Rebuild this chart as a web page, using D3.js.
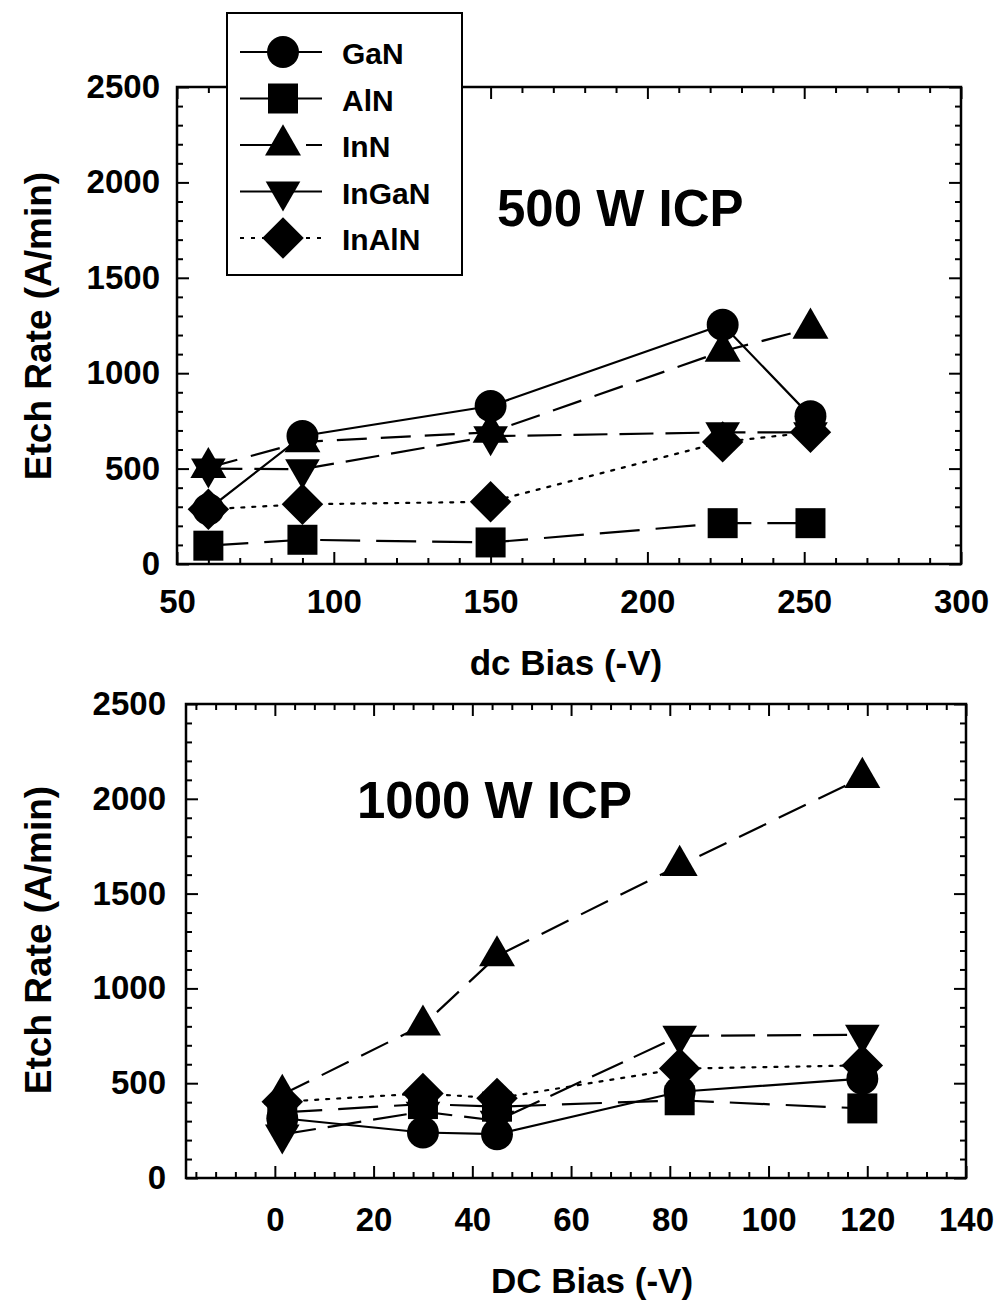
<!DOCTYPE html>
<html>
<head>
<meta charset="utf-8">
<script src="https://cdn.jsdelivr.net/npm/d3@7"></script>
<style>
  body { margin: 0; background: #fff; }
  text { font-family: "Liberation Sans", Arial, Helvetica, sans-serif; font-weight: bold; fill: #000; }
</style>
</head>
<body>
<svg id="chart" width="1004" height="1300"></svg>
<script>
// ---- data ----
const seriesNames = ["GaN", "AlN", "InN", "InGaN", "InAlN"];

// 500 W ICP panel
const biasTop = [60, 90, 150, 224, 252];
const ganTop   = [287, 671, 828, 1254, 775];
const alnTop   = [96, 127, 113, 214, 214];
const innTop   = [505, 640, 690, 1115, 1235];
const inganTop = [500, 497, 670, 690, 690];
const inalnTop = [287, 313, 326, 640, 690];

// 1000 W ICP panel
const biasBottom = [1.5, 30, 45, 82, 119];
const ganBottom   = [315, 240, 231, 455, 524];
const alnBottom   = [346, 390, 376, 410, 367];
const innBottom   = [440, 806, 1171, 1648, 2112];
const inganBottom = [230, 350, 302, 750, 755];
const inalnBottom = [402, 446, 420, 577, 594];

const xTicksTop = [50, 100, 150, 200, 250, 300];
const xTicksBottom = [0, 20, 40, 60, 80, 100, 120, 140];
const yTicks = [0, 500, 1000, 1500, 2000, 2500];

// ---- styles ----
const dashes = { GaN: null, AlN: "40,16", InN: "30,14", InGaN: "34,12", InAlN: "3,8" };
const legendDashes = { GaN: null, AlN: null, InN: "48,18,18,100", InGaN: null, InAlN: "4,7" };
const drawOrder = ["InN", "InGaN", "InAlN", "AlN", "GaN"];

const svg = d3.select("#chart");

function markerPath(name) {
  const sym = d3.symbol();
  if (name === "GaN") return sym.type(d3.symbolCircle).size(800)();
  if (name === "AlN") return sym.type(d3.symbolSquare).size(900)();
  if (name === "InN") return sym.type(d3.symbolTriangle).size(560)();
  if (name === "InGaN") return sym.type(d3.symbolTriangle).size(520)();
  return sym.type(d3.symbolSquare).size(860)();
}
function markerRotate(name) {
  if (name === "InGaN") return 180;
  if (name === "InAlN") return 45;
  return 0;
}

function drawPanel(cfg) {
  const x = d3.scaleLinear().domain(cfg.xDomain).range([cfg.left, cfg.right]);
  const y = d3.scaleLinear().domain([0, 2500]).range([cfg.bottom, cfg.top]);
  const g = svg.append("g");

  const minorX = d3.range(cfg.xDomain[0] + cfg.xMinorOffset, cfg.xDomain[1] + 0.001, cfg.xMinor)
    .filter(v => !cfg.xTicks.includes(v));
  const minorY = d3.range(0, 2501, 100).filter(v => !yTicks.includes(v));

  // major + minor ticks on all four sides, pointing inward
  const addAxis = (axis, tr) => {
    const a = g.append("g").attr("transform", tr).call(axis);
    a.select(".domain").remove();
    a.selectAll("line").attr("stroke", "#000").attr("stroke-width", 2);
    return a;
  };
  const xb = addAxis(d3.axisBottom(x).tickValues(cfg.xTicks).tickSize(-12).tickPadding(cfg.xPad).tickFormat(d3.format("d")),
    `translate(0,${cfg.bottom})`);
  xb.selectAll("text").style("font-size", "33px").attr("fill", "#000");
  addAxis(d3.axisBottom(x).tickValues(minorX).tickSize(-6).tickFormat(""), `translate(0,${cfg.bottom})`);
  addAxis(d3.axisTop(x).tickValues(cfg.xTicks).tickSize(-12).tickFormat(""), `translate(0,${cfg.top})`);
  addAxis(d3.axisTop(x).tickValues(minorX).tickSize(-6).tickFormat(""), `translate(0,${cfg.top})`);

  const yl = addAxis(d3.axisLeft(y).tickValues(yTicks).tickSize(-12).tickPadding(cfg.yPad).tickFormat(d3.format("d")),
    `translate(${cfg.left},0)`);
  yl.selectAll("text").style("font-size", "33px").attr("fill", "#000");
  addAxis(d3.axisLeft(y).tickValues(minorY).tickSize(-6).tickFormat(""), `translate(${cfg.left},0)`);
  addAxis(d3.axisRight(y).tickValues(yTicks).tickSize(-12).tickFormat(""), `translate(${cfg.right},0)`);
  addAxis(d3.axisRight(y).tickValues(minorY).tickSize(-6).tickFormat(""), `translate(${cfg.right},0)`);

  g.append("rect")
    .attr("x", cfg.left).attr("y", cfg.top)
    .attr("width", cfg.right - cfg.left).attr("height", cfg.bottom - cfg.top)
    .attr("fill", "none").attr("stroke", "#000").attr("stroke-width", 2.5);

  // series lines
  const line = d3.line().x(d => x(d[0])).y(d => y(d[1]));
  seriesNames.forEach((name, i) => {
    const pts = cfg.bias.map((b, j) => [b, cfg.values[i][j]]);
    g.append("path")
      .datum(pts)
      .attr("d", line)
      .attr("fill", "none")
      .attr("stroke", "#000")
      .attr("stroke-width", 2.2)
      .attr("stroke-linecap", name === "InAlN" ? "round" : "butt")
      .attr("stroke-dasharray", dashes[name]);
  });

  // markers
  drawOrder.forEach(name => {
    const i = seriesNames.indexOf(name);
    g.append("g").selectAll("path")
      .data(cfg.bias.map((b, j) => [b, cfg.values[i][j]]))
      .enter().append("path")
      .attr("d", markerPath(name))
      .attr("transform", d => `translate(${x(d[0])},${y(d[1])}) rotate(${markerRotate(name)})`)
      .attr("fill", "#000");
  });

  // axis titles
  svg.append("text")
    .attr("transform", `translate(51,${cfg.yTitleY}) rotate(-90)`)
    .attr("text-anchor", "middle")
    .style("font-size", "37px")
    .text("Etch Rate (A/min)");
  svg.append("text")
    .attr("x", cfg.xTitleX).attr("y", cfg.xTitleY)
    .attr("text-anchor", "middle")
    .style("font-size", "35px")
    .text(cfg.xTitle);
  svg.append("text")
    .attr("x", cfg.labelX).attr("y", cfg.labelY)
    .style("font-size", "51px")
    .text(cfg.label);
}

drawPanel({
  left: 177, right: 961, top: 87, bottom: 564,
  xDomain: [50, 300], xTicks: xTicksTop, xMinor: 10, xMinorOffset: 0,
  xPad: 26, yPad: 17,
  bias: biasTop,
  values: [ganTop, alnTop, innTop, inganTop, inalnTop],
  yTitleY: 326, xTitle: "dc Bias (-V)", xTitleX: 566, xTitleY: 675,
  label: "500 W ICP", labelX: 497, labelY: 226
});

drawPanel({
  left: 186, right: 966, top: 704, bottom: 1178,
  xDomain: [-18, 140], xTicks: xTicksBottom, xMinor: 4, xMinorOffset: 2,
  xPad: 30, yPad: 20,
  bias: biasBottom,
  values: [ganBottom, alnBottom, innBottom, inganBottom, inalnBottom],
  yTitleY: 940, xTitle: "DC Bias (-V)", xTitleX: 592, xTitleY: 1293,
  label: "1000 W ICP", labelX: 357, labelY: 818
});

// ---- legend ----
const leg = svg.append("g");
leg.append("rect")
  .attr("x", 227).attr("y", 13).attr("width", 235).attr("height", 262)
  .attr("fill", "#fff").attr("stroke", "#000").attr("stroke-width", 2);
seriesNames.forEach((name, i) => {
  const cy = 52 + i * 46.5;
  leg.append("line")
    .attr("x1", 240).attr("x2", 322).attr("y1", cy).attr("y2", cy)
    .attr("stroke", "#000").attr("stroke-width", 2.2)
    .attr("stroke-dasharray", legendDashes[name]);
  leg.append("path")
    .attr("d", markerPath(name))
    .attr("transform", `translate(283,${cy}) rotate(${markerRotate(name)})`)
    .attr("fill", "#000");
  leg.append("text")
    .attr("x", 342).attr("y", cy + 12)
    .style("font-size", "30px")
    .text(name);
});
</script>
</body>
</html>
